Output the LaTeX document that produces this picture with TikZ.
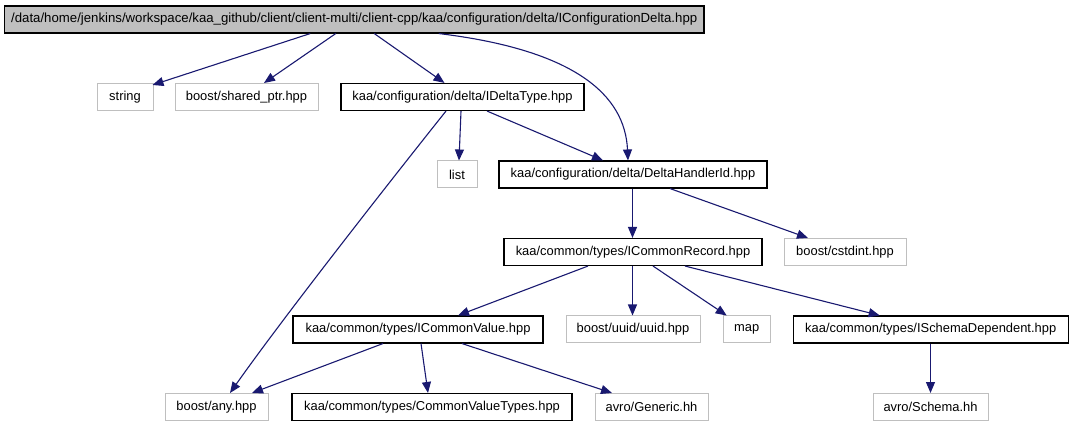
\documentclass[tikz,border=0pt]{standalone}
\usepackage{fontspec}
\setmainfont{Liberation Sans}
\usetikzlibrary{arrows.meta}
\definecolor{edgeblue}{HTML}{191970}
\definecolor{lightgrey}{HTML}{BFBFBF}
\definecolor{rootgrey}{HTML}{BFBFBF}
\tikzset{
  box/.style={draw=black, line width=1.1pt, inner sep=0pt, font=\fontsize{12.9}{15}\selectfont, anchor=center},
  extbox/.style={draw=lightgrey, line width=1pt, inner sep=0pt, font=\fontsize{12.9}{15}\selectfont, anchor=center},
  rootbox/.style={box, fill=rootgrey, font=\fontsize{13.2}{15}\selectfont},
  dep/.style={draw=edgeblue, line width=1.1pt, -{Triangle[length=11pt,width=9pt]}},
}
\begin{document}
\begin{tikzpicture}[x=1pt,y=-1pt]
\useasboundingbox (0,0) rectangle (1073,427);
\node[rootbox, minimum width=699.5pt, minimum height=27pt] (root) at (354.25,19.5) {/data/home/jenkins/workspace/kaa\_github/client/client-multi/client-cpp/kaa/configuration/delta/IConfigurationDelta.hpp};
% row 1
\node[extbox, minimum width=56pt, minimum height=27pt] (string) at (125,97) {string};
\node[extbox, minimum width=143pt, minimum height=27pt] (shared) at (246.5,97) {boost/shared\_ptr.hpp};
\node[box, minimum width=243pt, minimum height=27pt] (idelta) at (462.5,97) {kaa/configuration/delta/IDeltaType.hpp};
% row 2
\node[extbox, minimum width=40pt, minimum height=27pt] (list) at (457,174.5) {list};
\node[box, minimum width=268pt, minimum height=27pt] (dhid) at (633,174.5) {kaa/configuration/delta/DeltaHandlerId.hpp};
% row 3
\node[box, minimum width=258pt, minimum height=27pt] (icr) at (633,252) {kaa/common/types/ICommonRecord.hpp};
\node[extbox, minimum width=122pt, minimum height=27pt] (cstdint) at (845,252) {boost/cstdint.hpp};
% row 4
\node[box, minimum width=250pt, minimum height=27pt] (icv) at (418,329.5) {kaa/common/types/ICommonValue.hpp};
\node[extbox, minimum width=134pt, minimum height=27pt] (uuid) at (633,329.5) {boost/uuid/uuid.hpp};
\node[extbox, minimum width=47pt, minimum height=27pt] (map) at (746.7,329.5) {map};
\node[box, minimum width=275pt, minimum height=27pt] (isd) at (930.7,329.5) {kaa/common/types/ISchemaDependent.hpp};
% row 5
\node[extbox, minimum width=103pt, minimum height=27pt] (any) at (216.5,407) {boost/any.hpp};
\node[box, minimum width=280pt, minimum height=27pt] (cvt) at (432,407) {kaa/common/types/CommonValueTypes.hpp};
\node[extbox, minimum width=113pt, minimum height=27pt] (generic) at (651.5,407) {avro/Generic.hh};
\node[extbox, minimum width=115pt, minimum height=27pt] (schema) at (930.5,407) {avro/Schema.hh};
% edges
\draw[dep] ([xshift=-44pt]root.south) -- ([xshift=-1pt,yshift=-2pt]string.north east);
\draw[dep] ([xshift=-18.5pt]root.south) -- ([xshift=17.5pt]shared.north);
\draw[dep] ([xshift=20pt]root.south) -- ([xshift=-18pt]idelta.north);
\draw[dep] ([xshift=84.5pt]root.south) .. controls (575,50) and (625,95) .. ([xshift=-5pt]dhid.north);
\draw[dep] ([xshift=-16.5pt]idelta.south) .. controls (395,175) and (285,315) .. ([xshift=13.5pt]any.north);
\draw[dep] ([xshift=-1.5pt]idelta.south) -- ([xshift=2pt]list.north);
\draw[dep] ([xshift=24.5pt]idelta.south) -- ([xshift=-30pt]dhid.north);
\draw[dep] ([xshift=-0.5pt]dhid.south) -- ([xshift=-0.5pt]icr.north);
\draw[dep] ([xshift=37pt]dhid.south) -- ([xshift=-37pt]cstdint.north);
\draw[dep] ([xshift=-45pt]icr.south) -- ([xshift=40pt]icv.north);
\draw[dep] ([xshift=-0.5pt]icr.south) -- ([xshift=-0.5pt]uuid.north);
\draw[dep] ([xshift=20pt]icr.south) -- ([xshift=-20pt]map.north);
\draw[dep] ([xshift=52pt]icr.south) -- ([xshift=-51pt]isd.north);
\draw[dep] ([xshift=-35pt]icv.south) -- ([xshift=35.5pt]any.north);
\draw[dep] ([xshift=3pt]icv.south) -- ([xshift=-4pt]cvt.north);
\draw[dep] ([xshift=44pt]icv.south) -- ([xshift=-39.5pt]generic.north);
\draw[dep] ([xshift=-0.2pt]isd.south) -- (schema.north);
\end{tikzpicture}
\end{document}
